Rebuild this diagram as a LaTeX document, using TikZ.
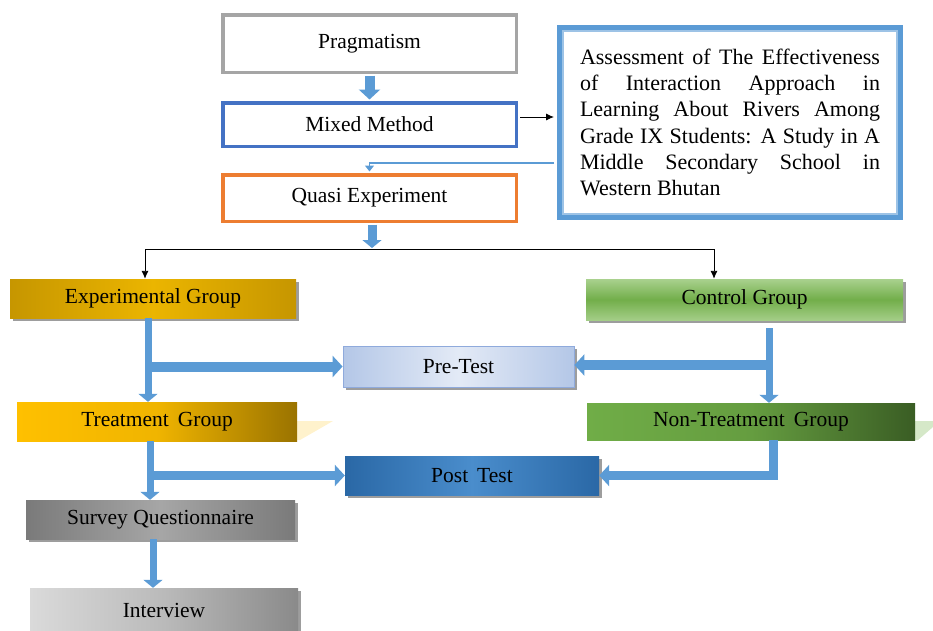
\documentclass[tikz,border=0pt]{standalone}
\usepackage{fontspec}
\setmainfont{Liberation Serif}
\usetikzlibrary{arrows.meta,shadows,calc}
\definecolor{pgray}{HTML}{A5A5A5}
\definecolor{mblue}{HTML}{4472C4}
\definecolor{qorange}{HTML}{ED7D31}
\definecolor{ablue}{HTML}{5B9BD5}
\definecolor{ainner}{HTML}{9DC3E6}
\definecolor{goldE}{HTML}{C69600}
\definecolor{goldM}{HTML}{EBB500}
\definecolor{goldT}{HTML}{FFC000}
\definecolor{goldD}{HTML}{9A7300}
\definecolor{grnL}{HTML}{A9D18E}
\definecolor{grnM}{HTML}{72AE4A}
\definecolor{grnA}{HTML}{70AD47}
\definecolor{grnD}{HTML}{3A5D24}
\definecolor{preL}{HTML}{E3EAF6}
\definecolor{preD}{HTML}{B4C7E7}
\definecolor{preB}{HTML}{8FAADC}
\definecolor{postE}{HTML}{2A68A6}
\definecolor{postM}{HTML}{4A8DCC}
\definecolor{svE}{HTML}{7A7A7A}
\definecolor{svM}{HTML}{A6A6A6}
\definecolor{ivL}{HTML}{DADADA}
\definecolor{ivD}{HTML}{8A8A8A}
\definecolor{yfaint}{HTML}{FFF2CC}
\definecolor{gfaint}{HTML}{D5E8C8}
\begin{document}
\begin{tikzpicture}[x=1pt,y=-1pt,
  box/.style={rectangle,inner sep=0pt,font=\fontsize{21.5}{25}\selectfont,text=black},
  shd/.style={drop shadow={shadow xshift=2.5pt,shadow yshift=-2.5pt,opacity=.55,fill=black!70}},
  blk/.style={draw=ablue,line width=7pt,-{Triangle[length=8pt,width=19pt]}},
  blkh/.style={draw=ablue,line width=10pt,-{Triangle[length=10pt,width=21pt]}},
  thinblk/.style={draw=black,line width=0.9pt,-{Latex[length=8pt,width=7pt]}},
  thinblue/.style={draw=ablue,line width=1.2pt,-{Triangle[length=6pt,width=9pt]}}]
\useasboundingbox (0,0) rectangle (933,630);

% top boxes
\node[box,draw=pgray,line width=3.5pt,minimum width=293.5pt,minimum height=57.5pt] (prag) at (369.5,43.5) {Pragmatism};
\node[box,draw=mblue,line width=3.5pt,minimum width=293.5pt,minimum height=43.5pt] (mixed) at (369.5,124.5) {Mixed Method};
\node[box,draw=qorange,line width=3.5pt,minimum width=293.5pt,minimum height=46.5pt] (quasi) at (369.5,198) {Quasi Experiment};

% assessment box
\node[box,draw=ablue,line width=6pt,minimum width=340pt,minimum height=189pt,align=left,
      font=\fontsize{22}{26.2}\selectfont] (ass) at (730,122.5)
 {\makebox[300pt][s]{Assessment of The Effectiveness}\\
  \makebox[300pt][s]{of Interaction Approach in}\\
  \makebox[300pt][s]{Learning About Rivers Among}\\
  \makebox[300pt][s]{Grade IX Students: A Study in A}\\
  \makebox[300pt][s]{Middle Secondary School in}\\
  \makebox[300pt][l]{Western Bhutan}};
\draw[draw=ainner,line width=1.3pt] ($(ass.north west)+(6,6)$) rectangle ($(ass.south east)+(-6,-6)$);

% groups
\node[box,shd,left color=goldE,right color=goldE,middle color=goldM,minimum width=286pt,minimum height=39pt] (eg) at (153,298.5) {Experimental Group};
\node[box,shd,top color=grnL,bottom color=grnL!90!grnM,middle color=grnM,minimum width=317pt,minimum height=41pt] (cg) at (744.5,299.5) {Control Group};
\node[box,shd,draw=preB,line width=0.8pt,left color=preD,right color=preD,middle color=preL,minimum width=231pt,minimum height=41pt] (pre) at (458.5,366.5) {Pre-Test};

\fill[yfaint] (297,421) -- (333,421) -- (300,440) -- (297,440) -- cycle;
\fill[gfaint] (915,421) -- (933,421) -- (933,427) -- (918,440) -- (915,440) -- cycle;

\node[box,left color=goldT,right color=goldD,middle color=goldT!85!goldD,minimum width=280pt,minimum height=39pt] (tg) at (157,421.5) {Treatment\, Group};
\node[box,left color=grnA,right color=grnD,middle color=grnA!80!grnD,minimum width=328pt,minimum height=37pt] (ntg) at (751,421.5) {Non-Treatment\, Group};
\node[box,shd,left color=postE,right color=postE,middle color=postM,minimum width=254pt,minimum height=39pt] (post) at (472,475.5) {Post\, Test};
\node[box,shd,left color=svE,right color=svE,middle color=svM,minimum width=269pt,minimum height=39pt] (sv) at (160.5,519.5) {Survey Questionnaire};
\node[box,shd,left color=ivL,right color=ivD,middle color=ivL!60!ivD,minimum width=268pt,minimum height=52pt] (iv) at (164,614) {\raisebox{8pt}{Interview}};

% connector helper points
\coordinate (egx) at ($(eg.south)+(-5,0)$);
\coordinate (cgs) at ($(cg.south)+(24.5,8)$);
\coordinate (cgb) at ($(cg.south)+(28,0)$);
\coordinate (tgx) at ($(tg.south)+(-7,0)$);
\coordinate (tgb) at ($(tg.south)+(-10,0)$);
\coordinate (ntgx) at ($(ntg.south)+(22,0)$);
\coordinate (svx) at ($(sv.south)+(-7.5,0)$);

% connectors top
\draw[blkh,line width=10pt] ([yshift=-1.5pt]prag.south) -- ([yshift=1.5pt]mixed.north);
\draw[thinblk] ($(mixed.east)+(2,-7.5)$) -- ($(ass.west)+(-3,-5.5)$);
\draw[thinblue] ($(ass.west)+(-3,40.5)$) -| ([yshift=1.5pt]quasi.north);
\coordinate (qa) at (372,248);
\draw[blkh,line width=9pt,-{Triangle[length=8pt,width=19pt]}] ($(quasi.south)+(2.5,1.5)$) -- (qa);
\coordinate (split) at (372,249);
\draw[thinblk] (split) -| ([xshift=-8pt]eg.north);
\draw[thinblk] (split) -| ([xshift=-30.5pt]cg.north);

% blue connectors groups
\draw[blk] (egx) -- (egx |- tg.north);
\draw[blkh] ([xshift=-3pt]egx |- pre.west) -- (pre.west);
\draw[blk] (cgs) -- (cgs |- ntg.north);
\draw[blkh] ([yshift=1.5pt]cgb |- pre.east) -- ([yshift=1.5pt]pre.east);
\draw[blk] (tgx) -- (tgx |- sv.north);
\draw[blkh,line width=9pt] (tgb |- post.west) -- (post.west);
\draw[blkh,line width=9pt] (ntgx) |- (post.east);
\draw[blk] (svx) -- (svx |- iv.north);
\end{tikzpicture}
\end{document}
